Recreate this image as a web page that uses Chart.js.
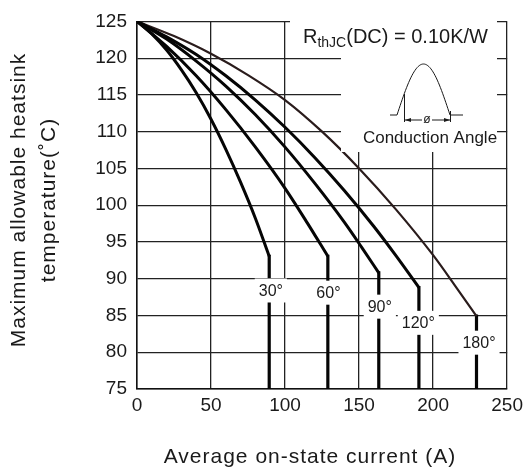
<!DOCTYPE html>
<html>
<head>
<meta charset="utf-8">
<script src="https://cdn.jsdelivr.net/npm/chart.js@4.4.1/dist/chart.umd.min.js"></script>
<style>
  html, body { margin: 0; padding: 0; background: #fff; }
  #wrap { width: 528px; height: 474px; }
</style>
</head>
<body>
<div id="wrap"><canvas id="chart" width="528" height="474"></canvas></div>
<script>
// curve points (current A, heatsink temp C)
const angleNames = ["30°", "60°", "90°", "120°", "180°"];

const curve30x = [0, 10, 20, 30, 40, 50, 60, 70, 80, 89.3];
const curve30y = [125, 123.3, 121.1, 118.4, 115.3, 111.7, 107.6, 103.1, 98.2, 93.05];

const curve60x = [0, 20, 40, 60, 80, 100, 115, 128.9];
const curve60y = [125, 121.6, 117.6, 113.0, 107.9, 102.3, 97.6, 93.05];

const curve90x = [0, 20, 40, 60, 80, 100, 120, 140, 152, 163.3];
const curve90y = [125, 122.6, 119.6, 116.2, 112.3, 107.9, 103.0, 97.7, 94.2, 90.8];

const curve120x = [0, 20, 40, 60, 80, 100, 120, 140, 160, 175, 190.4];
const curve120y = [125, 122.9, 120.5, 117.6, 114.3, 110.6, 106.5, 102.0, 97.1, 93.1, 88.8];

const curve180x = [0, 25, 50, 75, 100, 125, 150, 175, 200, 215, 229.3];
const curve180y = [125, 123.0, 120.6, 117.7, 114.3, 110.0, 105.0, 99.4, 93.2, 89.0, 84.9];

// where the angle tags sit
const labelX = [90.4, 129.3, 164, 190, 231];
const labelY = [88.4, 88.1, 86.2, 84, 81.3];

const xTicks = [0, 50, 100, 150, 200, 250];
const yTicks = [75, 80, 85, 90, 95, 100, 105, 110, 115, 120, 125];

const FONT = '"Liberation Sans", Arial, Helvetica, sans-serif';
Chart.defaults.font.family = FONT;

const allX = [curve30x, curve60x, curve90x, curve120x, curve180x];
const allY = [curve30y, curve60y, curve90y, curve120y, curve180y];

const datasets = [];
allX.forEach((xs, k) => {
    const ys = allY[k];
    const is180 = k === 4;
    datasets.push({
        label: angleNames[k],
        data: xs.map((x, i) => ({ x: x, y: ys[i] })),
        showLine: true,
        cubicInterpolationMode: "monotone",
        borderColor: is180 ? "#2a1c1c" : "#050505",
        borderWidth: is180 ? 2.2 : 3,
        pointRadius: 0,
        fill: false,
    });
    // vertical drop at the rated current
    const last = xs.length - 1;
    datasets.push({
        label: angleNames[k] + " limit",
        data: [{ x: xs[last], y: ys[last] }, { x: xs[last], y: yTicks[0] }],
        showLine: true,
        borderColor: "#050505",
        borderWidth: 3.2,
        borderCapStyle: "square",
        pointRadius: 0,
        fill: false,
    });
});

const decorPlugin = {
    id: "decor",
    afterDatasetsDraw(chart) {
        const ctx = chart.ctx;
        const xs = chart.scales.x;
        const ys = chart.scales.y;

        // angle tags with white background
        ctx.save();
        ctx.font = "16px " + FONT;
        ctx.textAlign = "center";
        ctx.textBaseline = "middle";
        angleNames.forEach((name, i) => {
            const px = xs.getPixelForValue(labelX[i]);
            const py = ys.getPixelForValue(labelY[i]);
            const w = ctx.measureText(name).width + 8;
            ctx.fillStyle = "#fff";
            ctx.fillRect(px - w / 2, py - 12, w, 24);
            ctx.fillStyle = "#1a1a1a";
            ctx.fillText(name, px, py + 1);
        });
        ctx.restore();

        // inset: Rth text and conduction angle sketch
        ctx.save();
        ctx.fillStyle = "#fff";
        ctx.fillRect(290, 14, 207, 43);
        ctx.fillRect(341, 14, 156, 138);

        ctx.fillStyle = "#1a1a1a";
        ctx.textBaseline = "alphabetic";
        ctx.textAlign = "left";
        let cx = 303;
        ctx.font = "20px " + FONT;
        ctx.fillText("R", cx, 43);
        cx += ctx.measureText("R").width;
        ctx.font = "14px " + FONT;
        ctx.fillText("thJC", cx, 47);
        cx += ctx.measureText("thJC").width;
        ctx.font = "20px " + FONT;
        ctx.fillText("(DC) = 0.10K/W", cx, 43);

        ctx.font = "17px " + FONT;
        ctx.textAlign = "center";
        ctx.fillText("Conduction Angle", 430, 143);

        ctx.strokeStyle = "#1a1a1a";
        ctx.lineWidth = 1;
        ctx.beginPath();
        ctx.moveTo(390, 115);
        ctx.lineTo(397, 115);
        for (let t = 0; t <= 1.0001; t += 0.02) {
            ctx.lineTo(397 + 53 * t, 115 - 51 * Math.sin(Math.PI * t));
        }
        ctx.lineTo(463, 115);
        ctx.moveTo(404.5, 122);
        ctx.lineTo(404.5, 94);
        ctx.moveTo(450.5, 111);
        ctx.lineTo(450.5, 122);
        ctx.moveTo(405, 120);
        ctx.lineTo(450, 120);
        ctx.stroke();
        // arrow heads
        ctx.fillStyle = "#1a1a1a";
        ctx.beginPath();
        ctx.moveTo(405, 120); ctx.lineTo(411, 118); ctx.lineTo(411, 122); ctx.closePath();
        ctx.moveTo(450, 120); ctx.lineTo(444, 118); ctx.lineTo(444, 122); ctx.closePath();
        ctx.fill();
        ctx.fillStyle = "#fff";
        ctx.fillRect(422, 114, 10, 11);
        ctx.fillStyle = "#1a1a1a";
        ctx.font = "12px " + FONT;
        ctx.textBaseline = "middle";
        ctx.fillText("ø", 427, 120);
        ctx.restore();
    },
    afterDraw(chart) {
        const ctx = chart.ctx;
        ctx.save();
        ctx.fillStyle = "#1a1a1a";
        ctx.font = "21px " + FONT;
        ctx.letterSpacing = "1px";
        ctx.textAlign = "center";
        ctx.textBaseline = "alphabetic";
        ctx.fillText("Average on-state current (A)", 310, 463);
        ctx.translate(25, 200);
        ctx.rotate(-Math.PI / 2);
        ctx.fillText("Maximum allowable heatsink", 0, 0);
        ctx.fillText("temperature(˚C)", 0, 30);
        ctx.restore();
    },
};

new Chart(document.getElementById("chart"), {
    type: "scatter",
    data: { datasets: datasets },
    options: {
        responsive: false,
        animation: false,
        layout: { padding: { left: 0, right: 16, top: 13, bottom: 0 } },
        plugins: {
            legend: { display: false },
            tooltip: { enabled: false },
        },
        scales: {
            x: {
                type: "linear",
                min: xTicks[0],
                max: xTicks[xTicks.length - 1],
                afterBuildTicks: (s) => { s.ticks = xTicks.map((v) => ({ value: v })); },
                afterFit: (s) => { s.height = 85; },
                ticks: { color: "#1a1a1a", font: { size: 19 }, padding: 5 },
                grid: { color: "#222", lineWidth: 1.3, drawTicks: false },
                border: { color: "#111", width: 1.5 },
            },
            y: {
                min: yTicks[0],
                max: yTicks[yTicks.length - 1],
                afterBuildTicks: (s) => { s.ticks = yTicks.map((v) => ({ value: v })); },
                afterFit: (s) => { s.width = 137; },
                ticks: { color: "#1a1a1a", font: { size: 19 }, padding: 10 },
                grid: { color: "#222", lineWidth: 1.3, drawTicks: false },
                border: { color: "#111", width: 1.5 },
            },
        },
    },
    plugins: [decorPlugin],
});
</script>
</body>
</html>
